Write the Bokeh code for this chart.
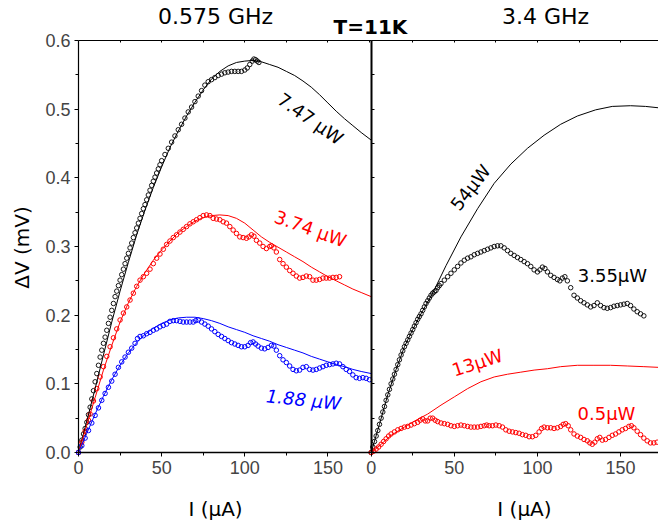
from bokeh.plotting import figure
from bokeh.models import Range1d, FixedTicker, LinearAxis, Label, CustomJSTickFormatter, PrintfTickFormatter
from bokeh.embed import file_html
from bokeh.resources import INLINE

# ---------------- data: left panel (0.575 GHz) ----------------
L_black_x = [0,1,2,3,4,5,6,7,8,9,10,11,12,13,14,15,16,17,18,19,20,21,22,23,24,25,26,27,28,29,30,
             31,32,33,34,35,36,37,38,39,40,41,42,43,44,45,46,47,48,49,50,52,54,56,58,60,62,64,66,68,
             70,72,74,76,78,80,82,84,86,88,90,92,94,96,98,100,101.5,103,104.5,105.5,106.5,107.5,108.5]
L_black_y = [0.000,0.008,0.018,0.027,0.035,0.044,0.055,0.066,0.078,0.090,0.103,0.115,0.127,0.139,0.149,
             0.159,0.168,0.178,0.188,0.197,0.207,0.217,0.227,0.235,0.243,0.251,0.259,0.267,0.275,0.283,
             0.290,0.298,0.305,0.313,0.320,0.327,0.334,0.341,0.348,0.355,0.361,0.368,0.375,0.382,0.389,
             0.395,0.401,0.407,0.413,0.419,0.425,0.434,0.443,0.452,0.461,0.470,0.478,0.487,0.496,0.503,
             0.511,0.519,0.527,0.535,0.540,0.543,0.546,0.549,0.551,0.553,0.554,0.555,0.555,0.555,0.555,
             0.557,0.560,0.565,0.570,0.573,0.572,0.570,0.568]
L_black_fit_x = [0,5,10,15,20,25,30,35,40,45,50,55,60,65,70,75,80,85,90,95,100,105,110,115,120,125,
                 130,135,140,145,150,155,160,165,170,176]
L_black_fit_y = [0,0.046,0.093,0.142,0.19,0.235,0.277,0.317,0.353,0.386,0.416,0.444,0.468,0.49,0.51,
                 0.528,0.544,0.555,0.563,0.568,0.57,0.571,0.569,0.565,0.561,0.555,0.549,0.541,0.532,
                 0.521,0.509,0.497,0.486,0.476,0.466,0.455]

L_red_x = [0,2,4,6,7,9,11,13,15,17,19,21,23,25,27,29,31,33,35,37,39,41,43,45,47,49,51,53,55,57,59,61,
           63,65,67,69,71,73,75,77,79,81,83,85,87,89,91,93,95,97,99,101,102.5,104,105.5,107,109,111,113,
           115,116,117.5,119,121,123,125,127,129,131,133,135,137,139,141,143,145,147,149,151,153,155,157]
L_red_y = [0,0.015,0.031,0.047,0.056,0.075,0.093,0.110,0.125,0.140,0.154,0.167,0.180,0.193,0.203,0.212,
           0.222,0.232,0.242,0.251,0.256,0.261,0.267,0.275,0.283,0.289,0.296,0.303,0.308,0.313,0.317,
           0.321,0.325,0.329,0.333,0.336,0.339,0.342,0.345,0.346,0.345,0.341,0.340,0.339,0.336,0.334,
           0.329,0.324,0.319,0.314,0.313,0.312,0.314,0.317,0.315,0.309,0.305,0.300,0.297,0.300,0.301,
           0.298,0.292,0.281,0.275,0.270,0.265,0.261,0.257,0.254,0.255,0.257,0.256,0.251,0.251,0.252,
           0.254,0.254,0.254,0.255,0.255,0.256]
L_red_fit_x = [0,5,10,15,20,25,30,35,40,45,50,55,60,65,70,75,80,85,90,95,100,105,110,115,120,125,130,
               135,140,145,150,155,160,165,170,176]
L_red_fit_y = [0,0.04,0.08,0.12,0.156,0.19,0.218,0.242,0.262,0.28,0.295,0.308,0.32,0.329,0.337,0.342,
               0.345,0.346,0.345,0.341,0.334,0.324,0.314,0.306,0.299,0.292,0.285,0.278,0.27,0.263,0.256,
               0.25,0.244,0.238,0.233,0.227]

L_blue_x = [0,2,4,6,8,10,12,14,16,18,20,22,24,26,28,30,32,34,35.5,37,39,41,43,45,47,49,51,53,55,57,59,
            61,63,65,67,69,70.5,72,74,76,78,80,82,84,86,88,90,92,94,96,98,100,102,103.5,105,106.5,108,
            110,112,114,116,117.5,119,121,123,125,127,129,131,133,135,137,139,141,143,145,147,149,151,
            153,155,157,159,161,163,165,167,169,171,173,175]
L_blue_y = [0,0.010,0.021,0.032,0.043,0.054,0.065,0.076,0.086,0.095,0.104,0.114,0.124,0.132,0.139,0.146,
            0.152,0.159,0.166,0.169,0.170,0.173,0.175,0.178,0.180,0.183,0.185,0.187,0.191,0.192,0.192,
            0.191,0.190,0.190,0.190,0.190,0.192,0.193,0.190,0.187,0.184,0.180,0.176,0.172,0.169,0.166,
            0.163,0.160,0.158,0.156,0.154,0.154,0.156,0.160,0.161,0.158,0.155,0.152,0.151,0.153,0.156,
            0.155,0.149,0.141,0.135,0.131,0.126,0.121,0.119,0.120,0.124,0.125,0.121,0.120,0.121,0.123,
            0.125,0.127,0.128,0.129,0.130,0.129,0.125,0.121,0.118,0.113,0.109,0.108,0.109,0.108,0.106]
L_blue_fit_x = [0,5,10,15,20,25,30,35,40,45,50,55,60,65,70,75,80,85,90,95,100,105,110,115,120,125,130,
                135,140,145,150,155,160,165,170,176]
L_blue_fit_y = [0,0.028,0.056,0.082,0.106,0.127,0.145,0.16,0.172,0.181,0.188,0.193,0.196,0.197,0.197,
                0.195,0.192,0.188,0.183,0.179,0.175,0.17,0.166,0.162,0.157,0.153,0.149,0.145,0.14,0.136,
                0.132,0.128,0.125,0.121,0.118,0.115]

# ---------------- data: right panel (3.4 GHz) ----------------
R_black_x = [0,1,2,3,4,5,6,7,8,9,10,11,12,13,14,15,16,17,18,19,20,21,22,23,24,25,26,27,28,29,30,31,32,
             33,34,35,36,37,38,39,40,41,42,44,46,48,50,52,54,56,58,60,62,64,66,68,70,72,74,76,78,80,82,
             84,86,88,90,92,94,96,98,100,101.5,103,104.5,106,108,110,112,113.5,115,116.5,118,120,122,
             124,126,128,130,132,134,136,138,140,142,144,146,148,150,152,154,156,158,160,162,164]
R_black_y = [0,0.008,0.016,0.024,0.032,0.041,0.050,0.059,0.067,0.076,0.084,0.092,0.100,0.107,0.114,0.121,
             0.128,0.135,0.142,0.148,0.154,0.159,0.164,0.169,0.174,0.179,0.184,0.189,0.194,0.198,0.202,
             0.207,0.212,0.217,0.221,0.225,0.229,0.232,0.234,0.236,0.240,0.243,0.246,0.251,0.256,0.261,
             0.266,0.271,0.276,0.280,0.283,0.285,0.288,0.290,0.292,0.294,0.296,0.298,0.300,0.301,0.301,
             0.298,0.294,0.290,0.287,0.284,0.281,0.278,0.275,0.271,0.266,0.263,0.266,0.270,0.268,0.263,
             0.258,0.255,0.252,0.250,0.254,0.256,0.250,0.240,0.229,0.225,0.221,0.218,0.215,0.212,0.214,
             0.218,0.214,0.211,0.210,0.211,0.213,0.214,0.215,0.216,0.217,0.214,0.209,0.205,0.202,0.199]
R_black_fit_x = [0,5,10,15,20,25,30,37,45,54,64,74,84,94,104,114,124,135,145,156,165,172.8]
R_black_fit_y = [0,0.041,0.084,0.121,0.154,0.179,0.202,0.232,0.272,0.314,0.355,0.392,0.42,0.443,0.462,
                 0.478,0.49,0.499,0.504,0.505,0.504,0.502]

R_red_x = [0,1.5,3,4.5,6,7.5,9,10.5,12,14,16,18,20,22,24,26,28,29.5,31,32.5,34,35.5,37,38.5,40,42,44,46,
           48,50,52,54,56,58,60,62,64,66,68,69.5,71,73,75,77,79,81,83,85,87,89,91,93,95,97,99,101,102.5,
           104,106,108,110,112,114,115.5,117,118.5,120,122,124,126,128,130,131.5,133,134.5,136,137.5,
           139,141,143,145,147,149,151,153,155,156.5,158,160,162,164,166,168,170,172]
R_red_y = [0,0.002,0.005,0.008,0.012,0.016,0.020,0.024,0.027,0.030,0.033,0.035,0.037,0.038,0.040,0.042,
           0.044,0.047,0.049,0.046,0.046,0.050,0.050,0.047,0.045,0.043,0.042,0.041,0.039,0.038,0.039,
           0.040,0.039,0.038,0.037,0.037,0.037,0.038,0.039,0.040,0.039,0.039,0.040,0.039,0.037,0.033,
           0.031,0.030,0.029,0.028,0.026,0.025,0.023,0.023,0.025,0.030,0.035,0.037,0.036,0.036,0.035,
           0.036,0.038,0.041,0.042,0.039,0.033,0.027,0.024,0.022,0.019,0.017,0.014,0.012,0.015,0.020,
           0.022,0.018,0.019,0.022,0.025,0.027,0.030,0.033,0.035,0.038,0.039,0.036,0.031,0.026,0.021,
           0.017,0.014,0.014,0.015]
R_red_fit_x = [0,6,12,20,27,34,42,50,58,66,74,82,90,98,106,114,124,134,144,154,164,172.8]
R_red_fit_y = [0,0.012,0.025,0.037,0.047,0.056,0.069,0.081,0.093,0.103,0.11,0.114,0.117,0.12,0.122,
               0.125,0.127,0.127,0.127,0.126,0.125,0.124]

X_TICKS = [0, 50, 100, 150]
X_MINOR = [25, 75, 125]
TOP_TICKS = [25, 50, 75, 100, 125, 150, 175]
Y_TICKS = [0.0, 0.1, 0.2, 0.3, 0.4, 0.5, 0.6]
Y_MINOR = [0.05, 0.15, 0.25, 0.35, 0.45, 0.55]

LEFT_MAX = 176.0    # left panel x extent
RIGHT_MAX = 172.8   # visible right panel x extent

BLACK, RED, BLUE = "#000000", "#ff0000", "#0000ff"

W, H = 658, 524
X0_PX, Y0_PX, XSCALE, YSCALE = 78.0, 452.0, 1.6628, 686.67   # frame placement (pixels)
x_lo = -X0_PX / XSCALE
x_hi = (W - X0_PX) / XSCALE
y_hi = Y0_PX / YSCALE
y_lo = -(H - Y0_PX) / YSCALE

p = figure(width=W, height=H, x_range=Range1d(x_lo, x_hi), y_range=Range1d(y_lo, y_hi),
           output_backend="svg", toolbar_location=None, x_axis_type=None, y_axis_type=None,
           min_border_left=0, min_border_right=0, min_border_top=0, min_border_bottom=0)
p.extra_x_ranges = {"right": Range1d(x_lo - LEFT_MAX, x_hi - LEFT_MAX)}
p.outline_line_color = None
p.background_fill_color = "white"
p.border_fill_color = "white"

MS = 4.5
# left panel
p.scatter(L_black_x, L_black_y, marker="circle", size=MS, fill_color=None, line_color=BLACK, line_width=0.9)
p.scatter(L_red_x, L_red_y, marker="circle", size=MS, fill_color=None, line_color=RED, line_width=1)
p.scatter(L_blue_x, L_blue_y, marker="circle", size=MS, fill_color=None, line_color=BLUE, line_width=1)
p.line(L_black_fit_x, L_black_fit_y, line_color=BLACK, line_width=1)
p.line(L_red_fit_x, L_red_fit_y, line_color=RED, line_width=1)
p.line(L_blue_fit_x, L_blue_fit_y, line_color=BLUE, line_width=1)
# right panel
p.scatter(R_black_x, R_black_y, marker="circle", size=MS, fill_color=None, line_color=BLACK, line_width=0.9,
          x_range_name="right")
p.scatter(R_red_x, R_red_y, marker="circle", size=MS, fill_color=None, line_color=RED, line_width=1,
          x_range_name="right")
p.line(R_black_fit_x, R_black_fit_y, line_color=BLACK, line_width=1, x_range_name="right")
p.line(R_red_fit_x, R_red_fit_y, line_color=RED, line_width=1, x_range_name="right")

TICK_FONT = "Liberation Sans"
TICK_SIZE = "18px"
BLANK = CustomJSTickFormatter(code="return '';")

def bottom_axis(bounds, rng):
    ax = LinearAxis(fixed_location=0, bounds=bounds, x_range_name=rng,
                    ticker=FixedTicker(ticks=X_TICKS, minor_ticks=X_MINOR),
                    formatter=PrintfTickFormatter(format="%d"),
                    major_tick_out=4, major_tick_in=0, minor_tick_out=3, minor_tick_in=0,
                    axis_line_width=1.5, major_label_text_font=TICK_FONT,
                    major_label_text_font_size=TICK_SIZE, major_label_standoff=4)
    p.add_layout(ax, "below")

def top_axis(bounds, rng):
    ax = LinearAxis(fixed_location=Y_TICKS[-1], bounds=bounds, x_range_name=rng,
                    ticker=FixedTicker(ticks=TOP_TICKS, minor_ticks=[]), formatter=BLANK,
                    major_tick_in=2, major_tick_out=0, minor_tick_in=0, minor_tick_out=0,
                    axis_line_width=1, major_label_text_color=None, major_label_standoff=0)
    p.add_layout(ax, "above")

bottom_axis((0, LEFT_MAX), "default")
bottom_axis((0, RIGHT_MAX), "right")
top_axis((0, LEFT_MAX), "default")
top_axis((0, RIGHT_MAX), "right")

ya = LinearAxis(fixed_location=0, bounds=(Y_TICKS[0], Y_TICKS[-1]),
                ticker=FixedTicker(ticks=Y_TICKS, minor_ticks=Y_MINOR),
                formatter=PrintfTickFormatter(format="%.1f"),
                major_tick_out=4, major_tick_in=0, minor_tick_out=3, minor_tick_in=0,
                axis_line_width=1.2, major_label_text_font=TICK_FONT,
                major_label_text_font_size=TICK_SIZE, major_label_standoff=4)
p.add_layout(ya, "left")

# divider between the panels = right panel's y axis, ticks pointing into the right panel
div_axis = LinearAxis(fixed_location=0, x_range_name="right", bounds=(Y_TICKS[0], Y_TICKS[-1]),
                      ticker=FixedTicker(ticks=Y_TICKS + Y_MINOR, minor_ticks=[]), formatter=BLANK,
                      major_tick_in=3, major_tick_out=0, minor_tick_in=0, minor_tick_out=0,
                      axis_line_width=2, major_label_text_color=None, major_label_standoff=0)
p.add_layout(div_axis, "left")

def lab(text, x, y, color=BLACK, size="18px", angle=0.0, style="normal", font="DejaVu Sans",
        rng="default"):
    p.add_layout(Label(x=x, y=y, text=text, text_color=color, text_font=font, text_font_size=size,
                       text_font_style=style, angle=angle, angle_units="deg", text_align="center",
                       text_baseline="middle", x_range_name=rng))

lab("0.575 GHz", 82.4, 0.635, size="22px")
lab("3.4 GHz", 104.9, 0.635, size="22px", rng="right")
lab("T=11K", 175.6, 0.620, size="20px", style="bold")
lab("I (\u03bcA)", 82.4, -0.0816, size="20px")
lab("I (\u03bcA)", 92.2, -0.0816, size="20px", rng="right")
lab("\u0394V (mV)", -33.7, 0.2985, size="20px", angle=90)

lab("7.47 \u03bcW", 139.5, 0.486, angle=-35)
lab("3.74 \u03bcW", 139.5, 0.326, color=RED, angle=-20)
lab("1.88 \u03bcW", 135.3, 0.077, color=BLUE, angle=-6, style="italic")
lab("54\u03bcW", 59.7, 0.386, angle=52, rng="right")
lab("3.55\u03bcW", 145.1, 0.258, rng="right")
lab("13\u03bcW", 63.9, 0.131, color=RED, angle=18, rng="right")
lab("0.5\u03bcW", 141.5, 0.057, color=RED, rng="right")

open("out.html", "w").write(file_html(p, INLINE))
